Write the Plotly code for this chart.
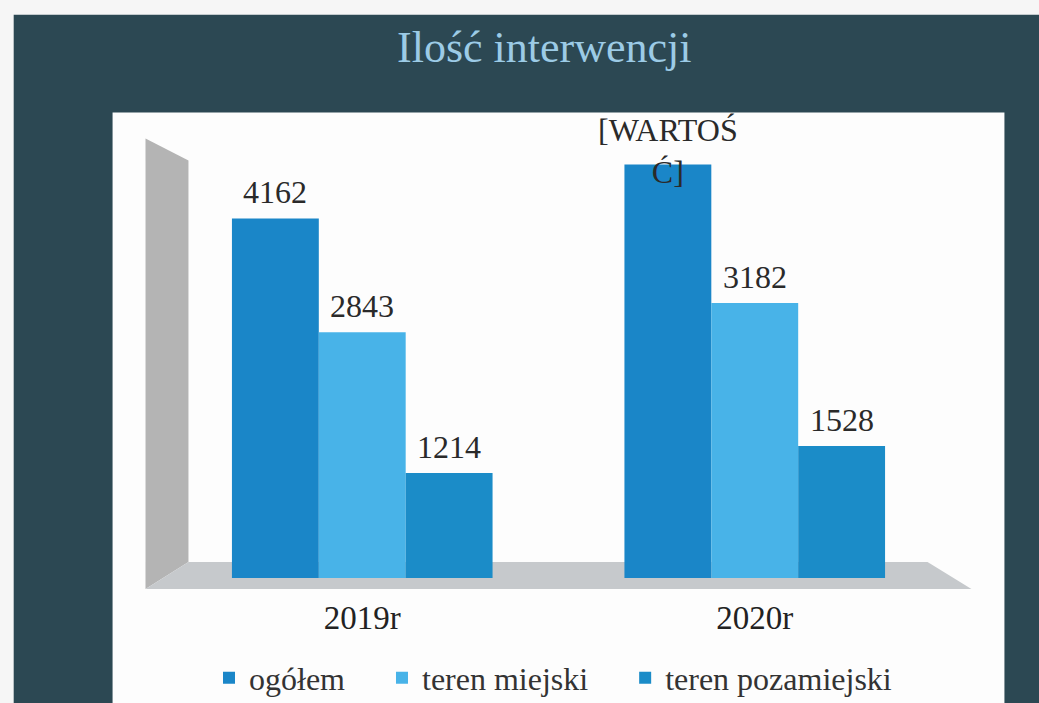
import plotly.graph_objects as go

# ---- data ----
categories = ["2019r", "2020r"]
series_names = ["ogółem", "teren miejski", "teren pozamiejski"]
ogolem = [4162, 4786]
miejski = [2843, 3182]
pozamiejski = [1214, 1528]
label_ogolem = ["4162", "[WARTOŚ<br>Ć]"]
label_miejski = ["2843", "3182"]
label_pozamiejski = ["1214", "1528"]
colors = ["#1a86c8", "#48b3e8", "#1b8cc8"]

SERIF = "'Liberation Serif', 'Times New Roman', Times, 'DejaVu Serif', serif"

W, H = 1039, 703
L, R, T, B = 165.5, 87.5, 145.5, 125
PW, PH = W - L - R, H - T - B

def px(x):
    return (x - L) / PW

def py(y):
    return 1 - (y - T) / PH

fig = go.Figure()
xs = list(range(len(categories)))
bargap = 0.336
w = (1 - bargap) / 3
series = [ogolem, miejski, pozamiejski]
labels = [label_ogolem, label_miejski, label_pozamiejski]
pad = ["\u00a0" * 4, "\u00a0" * 4, ""]
for i, (name, vals) in enumerate(zip(series_names, series)):
    fig.add_trace(go.Bar(x=xs, y=vals, name=name + pad[i],
                         marker=dict(color=colors[i], line=dict(width=0)),
                         hoverinfo="y"))

annotations = []
for i, (vals, labs) in enumerate(zip(series, labels)):
    off = (i - 1) * w
    for j, (v, lab) in enumerate(zip(vals, labs)):
        multi = "<br>" in lab
        annotations.append(dict(
            x=xs[j] + off, y=v, xref="x", yref="y", text=lab,
            showarrow=False, yanchor="bottom", xanchor="center",
            yshift=-28 if multi else 6,
            font=dict(family=SERIF, size=32, color="#2a2a2a")))

annotations.append(dict(
    text="Ilość interwencji", x=px(544), y=py(47), xref="paper", yref="paper",
    showarrow=False, xanchor="center", yanchor="middle",
    font=dict(family=SERIF, size=44, color="#9ccbe6")))

def path(points):
    s = "M " + " L ".join(f"{px(a)},{py(b)}" for a, b in points) + " Z"
    return s

shapes = [
    dict(type="rect", xref="paper", yref="paper", x0=px(13), x1=px(W + 5),
         y0=py(14), y1=py(H + 5), fillcolor="#2c4853", line=dict(width=0), layer="below"),
    dict(type="rect", xref="paper", yref="paper", x0=px(112), x1=px(1005),
         y0=py(112), y1=py(H + 5), fillcolor="#fdfdfd", line=dict(width=0), layer="below"),
    dict(type="path", xref="paper", yref="paper",
         path=path([(145, 138), (188, 160), (188, 562), (145, 589)]),
         fillcolor="#b4b4b4", line=dict(width=0), layer="below"),
    dict(type="path", xref="paper", yref="paper",
         path=path([(188, 562), (928, 562), (972, 589), (145, 589)]),
         fillcolor="#c6c9cc", line=dict(width=0), layer="below"),
]

fig.update_layout(
    width=W, height=H,
    margin=dict(l=L, r=R, t=T, b=B, autoexpand=False),
    paper_bgcolor="#f6f6f6", plot_bgcolor="rgba(0,0,0,0)",
    barmode="group", bargap=bargap, bargroupgap=0,
    showlegend=True,
    legend=dict(orientation="h", x=px(553), y=py(678), xanchor="center", yanchor="middle",
                font=dict(family=SERIF, size=32, color="#333333"),
                bgcolor="rgba(0,0,0,0)", itemwidth=30),
    xaxis=dict(tickvals=xs, ticktext=categories, range=[-0.5, 1.5],
               showgrid=False, zeroline=False, showline=False,
               ticks="outside", ticklen=10, tickcolor="rgba(0,0,0,0)",
               tickfont=dict(family=SERIF, size=33, color="#222222")),
    yaxis=dict(range=[0, 5000], visible=False, showgrid=False),
    annotations=annotations, shapes=shapes,
)

fig.write_html("out.html", config={"displayModeBar": False},
               post_script="document.body.style.margin='0';document.body.style.overflow='hidden';")
